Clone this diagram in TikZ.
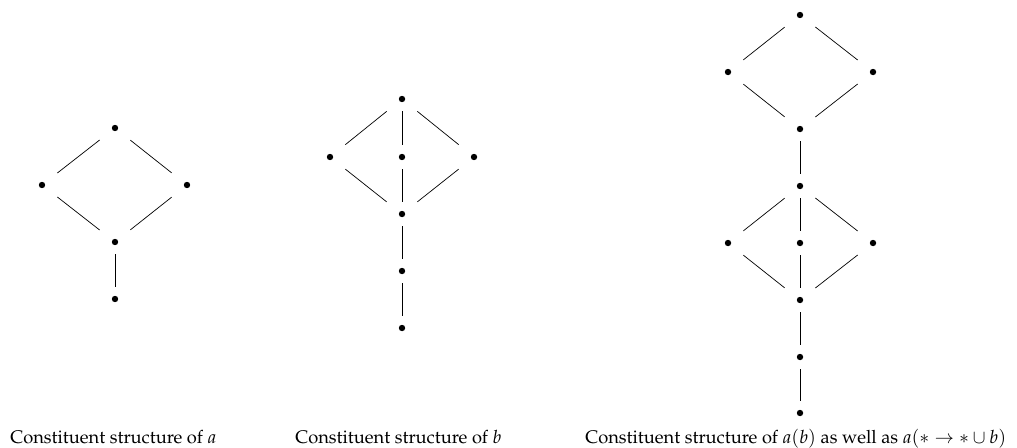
\documentclass[tikz,border=0pt]{standalone}
\usepackage[T1]{fontenc}
\usepackage{mathpazo}
\tikzset{
  elem/.style={minimum width=0.75cm, minimum height=0.6cm, inner sep=0pt,
    path picture={\fill (path picture bounding box.center) circle (0.08cm);}},
  caption/.style={anchor=base west, inner sep=0pt, font=\fontsize{13}{15}\selectfont}
}
\begin{document}
\begin{tikzpicture}[x=0.025cm,y=-0.025cm,line width=0.5pt]
\useasboundingbox (0,0) rectangle (1017,447);
% structure of a
\node[elem] (a1) at (115,128) {};
\node[elem] (a2) at (42,185) {};
\node[elem] (a3) at (187,185) {};
\node[elem] (a4) at (115,242) {};
\node[elem] (a5) at (115,299) {};
\foreach \u/\v in {a1/a2,a1/a3,a2/a4,a3/a4,a4/a5}
  \draw (\u) -- (\v);
% structure of b
\node[elem] (b1) at (402,99) {};
\node[elem] (b2) at (330,157) {};
\node[elem] (b3) at (402,157) {};
\node[elem] (b4) at (474,157) {};
\node[elem] (b5) at (402,214) {};
\node[elem] (b6) at (402,271) {};
\node[elem] (b7) at (402,328) {};
\foreach \u/\v in {b1/b2,b1/b3,b1/b4,b2/b5,b3/b5,b4/b5,b5/b6,b6/b7}
  \draw (\u) -- (\v);
% structure of a(b)
\node[elem] (c1) at (800,15) {};
\node[elem] (c2) at (728,72) {};
\node[elem] (c3) at (873,72) {};
\node[elem] (c4) at (800,129) {};
\node[elem] (c5) at (800,186) {};
\node[elem] (c6) at (728,243) {};
\node[elem] (c7) at (800,243) {};
\node[elem] (c8) at (873,243) {};
\node[elem] (c9) at (800,300) {};
\node[elem] (c10) at (800,357) {};
\node[elem] (c11) at (800,413) {};
\foreach \u/\v in {c1/c2,c1/c3,c2/c4,c3/c4,c4/c5,c5/c6,c5/c7,c5/c8,c6/c9,c7/c9,c8/c9,c9/c10,c10/c11}
  \draw (\u) -- (\v);
% captions
\node[caption] (ta) at (10,443) {Constituent structure of $a$};
\node[caption] (tb) at (295,443) {Constituent structure of $b$};
\node[caption] (tc) at (585,443) {Constituent structure of $a(b)$ as well as $a(* \to * \cup b)$};
\end{tikzpicture}
\end{document}
